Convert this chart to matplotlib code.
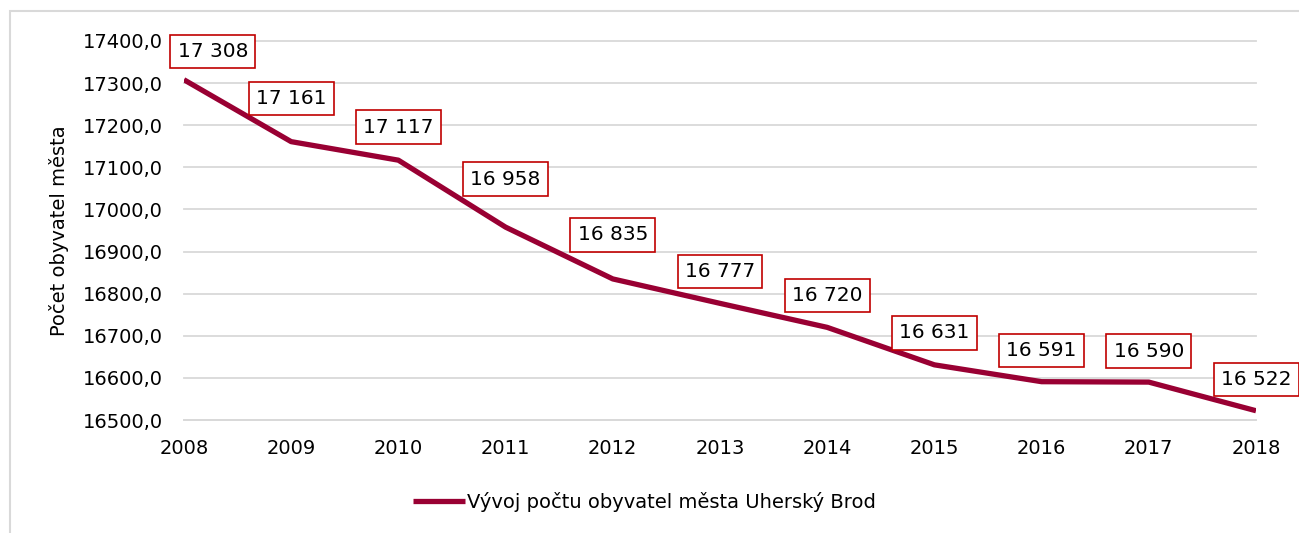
import matplotlib.pyplot as plt
from matplotlib.patches import Rectangle

# data
roky = [2008, 2009, 2010, 2011, 2012, 2013, 2014, 2015, 2016, 2017, 2018]
obyvatele = [17308, 17161, 17117, 16958, 16835, 16777, 16720, 16631, 16591, 16590, 16522]
y_ticks = [16500, 16600, 16700, 16800, 16900, 17000, 17100, 17200, 17300, 17400]

# posun popisku (px) od bodu - nektere byly v puvodnim grafu posunute rucne
posun_x = [29, 0, 0, 0, 0, 0, 0, 0, 0, 0, 0]
posun_y = [28, 43, 33, 48, 44, 32, 32, 32, 31, 31, 31]

barva = '#990033'
plt.rcParams['font.family'] = ['DejaVu Sans']
fs = 14

fig = plt.figure(figsize=(12.99, 5.33), dpi=100)
ax = fig.add_axes([0.1416, 0.2120, 0.9669 - 0.1416, 0.9231 - 0.2120])

# ramecek kolem grafu
fig.patches.append(Rectangle((10 / 1299, -0.1), 1.2, (533 - 11) / 533 + 0.1,
                             transform=fig.transFigure, fill=False,
                             edgecolor='#d9d9d9', linewidth=1.5))

ax.plot(roky, obyvatele, color=barva, linewidth=3.8,
        label='Vývoj počtu obyvatel města Uherský Brod', solid_capstyle='butt')

px = 72 / 100
for rok, hodnota, dx, dy in zip(roky, obyvatele, posun_x, posun_y):
    text = f'{hodnota:,}'.replace(',', ' ')
    ax.annotate(text, (rok, hodnota), xytext=(dx * px, dy * px),
                textcoords='offset points', ha='center', va='center',
                fontsize=14.5, color='black',
                bbox=dict(boxstyle='square,pad=0.36', facecolor='white',
                          edgecolor='#c00000', linewidth=1.2))

ax.set_xlim(2008, 2018)
ax.set_ylim(16500, 17400)
ax.set_yticks(y_ticks)
ax.set_yticklabels([f'{v},0' for v in y_ticks])
ax.set_xticks(roky)
ax.tick_params(axis='both', length=0, labelsize=fs)
ax.tick_params(axis='y', pad=15)
ax.tick_params(axis='x', pad=14)
ax.grid(axis='y', color='#d9d9d9', linewidth=1.3)
for gl in ax.get_ygridlines():
    gl.set_clip_on(False)
ax.set_axisbelow(True)
for s in ['top', 'right', 'left']:
    ax.spines[s].set_visible(False)
ax.spines['bottom'].set_color('#d9d9d9')
ax.spines['bottom'].set_linewidth(1.3)

ax.set_ylabel('Počet obyvatel města', fontsize=fs, labelpad=10)

fig.legend(loc='center', bbox_to_anchor=(0.496, 1 - 502 / 533), frameon=False,
           fontsize=fs, handlelength=2.7, handletextpad=0.1)

fig.savefig('out.png', dpi=100)
